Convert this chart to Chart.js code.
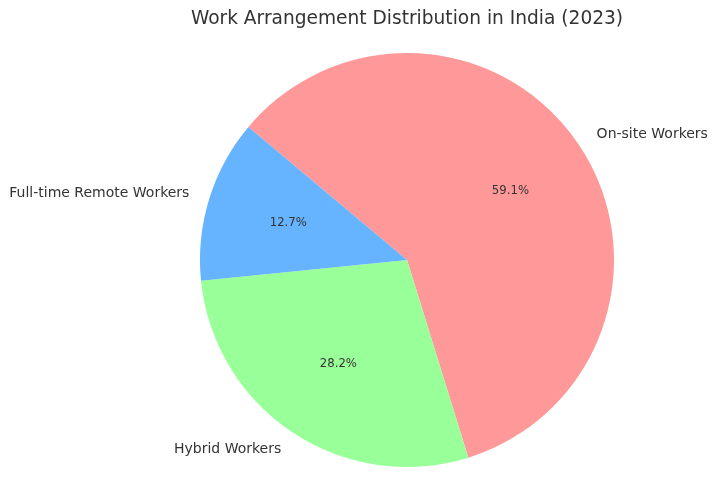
<!DOCTYPE html>
<html>
<head>
<meta charset="utf-8">
<script src="https://cdn.jsdelivr.net/npm/chart.js@4"></script>
<style>
    body { margin: 0; background: #fff; }
    #wrap { width: 719px; height: 503px; }
</style>
</head>
<body>
<div id="wrap"><canvas id="pie-chart" width="719" height="503"></canvas></div>
<script>
const chartTitle = 'Work Arrangement Distribution in India (2023)';
const categories = ['Full-time Remote Workers', 'Hybrid Workers', 'On-site Workers'];
const shares = [12.7, 28.2, 59.1];
const colors = ['#66b3ff', '#99ff99', '#ff9999'];

// matplotlib draws counter-clockwise from 140deg; Chart.js goes clockwise,
// so feed the slices in reverse order and start at the same edge
const order = [2, 1, 0];

const textColor = '#333333';
const fontFamily = '"DejaVu Sans", sans-serif';

const pieLabels = {
    id: 'pieLabels',
    afterDraw(chart) {
        const ctx = chart.ctx;
        const meta = chart.getDatasetMeta(0);
        ctx.save();
        ctx.fillStyle = textColor;
        ctx.textBaseline = 'middle';

        meta.data.forEach((arc, i) => {
            const mid = (arc.startAngle + arc.endAngle) / 2;
            const r = arc.outerRadius;
            const cos = Math.cos(mid);
            const sin = Math.sin(mid);

            // category name outside the pie
            ctx.font = '14px ' + fontFamily;
            ctx.textAlign = cos < 0 ? 'right' : 'left';
            ctx.fillText(chart.data.labels[i], arc.x + cos * r * 1.1, arc.y + sin * r * 1.1);

            // percentage inside
            ctx.font = '11.7px ' + fontFamily;
            ctx.textAlign = 'center';
            const pct = chart.data.datasets[0].data[i].toFixed(1) + '%';
            ctx.fillText(pct, arc.x + cos * r * 0.6, arc.y + sin * r * 0.6);
        });

        ctx.font = '18.6px ' + fontFamily;
        ctx.textAlign = 'center';
        ctx.fillText(chartTitle, 407, 19);
        ctx.restore();
    }
};

const ctx = document.getElementById('pie-chart').getContext('2d');
new Chart(ctx, {
    type: 'pie',
    data: {
        labels: order.map(i => categories[i]),
        datasets: [{
            data: order.map(i => shares[i]),
            backgroundColor: order.map(i => colors[i]),
            borderWidth: 0
        }]
    },
    options: {
        responsive: false,
        animation: false,
        rotation: -50,
        layout: {
            padding: { left: 200, right: 105, top: 53, bottom: 36 }
        },
        plugins: {
            legend: { display: false },
            tooltip: { enabled: false }
        }
    },
    plugins: [pieLabels]
});
</script>
</body>
</html>
